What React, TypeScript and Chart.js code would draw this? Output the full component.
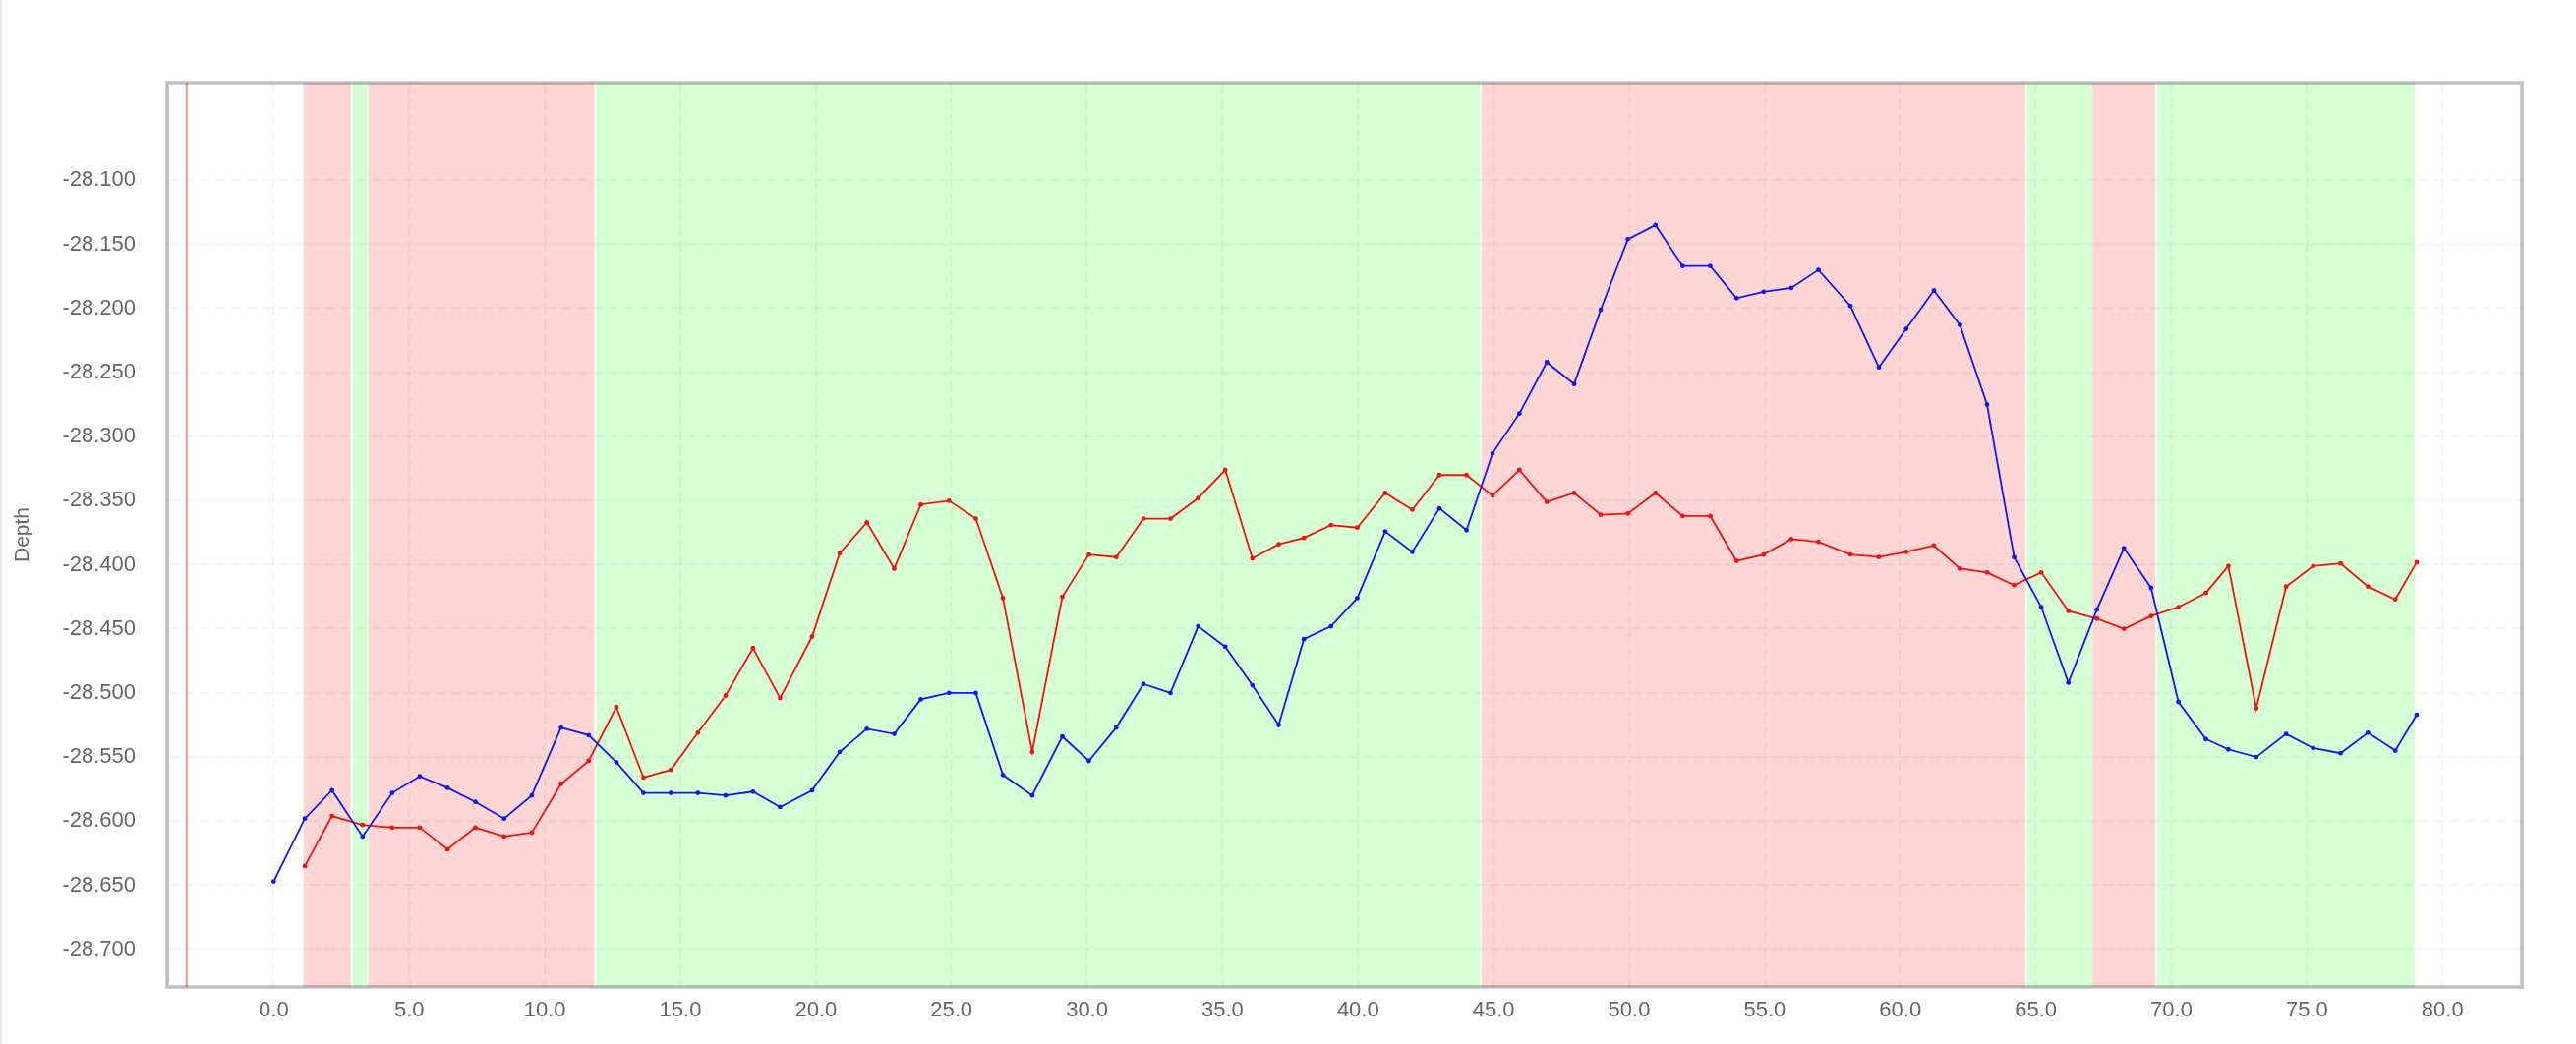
import React, { useEffect, useRef } from 'react';
import { Chart, registerables } from 'chart.js';

Chart.register(...registerables);

// Distance positions of the samples (shared by both series)
const xPositions = [
  0, 1.15, 2.15, 3.28, 4.37, 5.39, 6.41, 7.44, 8.5, 9.52,
  10.6, 11.62, 12.64, 13.64, 14.65, 15.65, 16.67, 17.68, 18.68, 19.86,
  20.88, 21.88, 22.89, 23.87, 24.91, 25.9, 26.9, 27.98, 29.09, 30.07,
  31.08, 32.08, 33.08, 34.1, 35.1, 36.1, 37.07, 38.0, 39.0, 39.97,
  41.0, 42.0, 43.0, 44.0, 44.96, 45.95, 46.96, 47.97, 48.95, 49.95,
  50.97, 51.97, 52.99, 53.96, 54.96, 55.98, 56.98, 58.16, 59.21, 60.22,
  61.24, 62.2, 63.2, 64.2, 65.2, 66.2, 67.25, 68.25, 69.25, 70.26,
  71.27, 72.1, 73.13, 74.23, 75.23, 76.24, 77.25, 78.26, 79.05,
];

// Blue series depth (starts at the first position)
const blueDepth = [
  -28.647, -28.598, -28.576, -28.612, -28.578, -28.565, -28.574, -28.585, -28.598, -28.580,
  -28.527, -28.533, -28.554, -28.578, -28.578, -28.578, -28.580, -28.577, -28.589, -28.576,
  -28.546, -28.528, -28.532, -28.505, -28.500, -28.500, -28.564, -28.580, -28.534, -28.553,
  -28.527, -28.493, -28.500, -28.448, -28.464, -28.494, -28.525, -28.458, -28.448, -28.426,
  -28.374, -28.390, -28.356, -28.373, -28.313, -28.282, -28.242, -28.259, -28.201, -28.146,
  -28.135, -28.167, -28.167, -28.192, -28.187, -28.184, -28.170, -28.198, -28.246, -28.216,
  -28.186, -28.213, -28.275, -28.394, -28.433, -28.492, -28.435, -28.387, -28.418, -28.507,
  -28.536, -28.544, -28.550, -28.532, -28.543, -28.547, -28.531, -28.545, -28.517,
];

// Red series depth (starts at the second position)
const redDepth = [
  -28.635, -28.596, -28.603, -28.605, -28.605, -28.622, -28.605, -28.612, -28.609,
  -28.571, -28.553, -28.511, -28.566, -28.560, -28.531, -28.502, -28.465, -28.504, -28.456,
  -28.391, -28.367, -28.403, -28.353, -28.350, -28.364, -28.426, -28.546, -28.425, -28.392,
  -28.394, -28.364, -28.364, -28.348, -28.326, -28.395, -28.384, -28.379, -28.369, -28.371,
  -28.344, -28.357, -28.330, -28.330, -28.346, -28.326, -28.351, -28.344, -28.361, -28.360,
  -28.344, -28.362, -28.362, -28.397, -28.392, -28.380, -28.382, -28.392, -28.394, -28.390,
  -28.385, -28.403, -28.406, -28.416, -28.406, -28.436, -28.442, -28.450, -28.440, -28.433,
  -28.422, -28.401, -28.512, -28.417, -28.401, -28.399, -28.417, -28.427, -28.398,
];

// Shaded bands (where one line is above the other)
const bandStart = [1.1, 2.9, 3.49, 11.89, 44.55, 64.68, 67.09, 69.46];
const bandEnd = [2.84, 3.49, 11.83, 44.51, 64.62, 67.09, 69.41, 78.98];
const bandKind = ['down', 'up', 'down', 'up', 'down', 'up', 'down', 'up'];

// Vertical marker line position
const markerX = [-3.21];

const xTicks = [0, 5, 10, 15, 20, 25, 30, 35, 40, 45, 50, 55, 60, 65, 70, 75, 80];
const yTicks = [-28.1, -28.15, -28.2, -28.25, -28.3, -28.35, -28.4, -28.45, -28.5, -28.55, -28.6, -28.65, -28.7];

const xMin = -3.93;
const xMax = 82.93;
const yMin = -28.7294;
const yMax = -28.0238;

const BLUE = 'rgb(16,24,240)';
const RED = 'rgb(240,20,12)';
const PINK = 'rgb(255,214,214)';
const GREEN = 'rgb(214,255,214)';
const FONT = "'Liberation Sans', Arial, Helvetica, sans-serif";

const decorPlugin = {
  id: 'decor',
  beforeDraw(chart: any) {
    const { ctx, chartArea: a, scales } = chart;
    const x = scales.x;
    ctx.save();
    for (let i = 0; i < bandStart.length; i++) {
      const x0 = x.getPixelForValue(bandStart[i]);
      const x1 = x.getPixelForValue(bandEnd[i]);
      ctx.fillStyle = bandKind[i] === 'down' ? PINK : GREEN;
      ctx.fillRect(x0, a.top, x1 - x0, a.bottom - a.top);
    }
    ctx.restore();
  },
  beforeDatasetsDraw(chart: any) {
    const { ctx, chartArea: a, scales } = chart;
    ctx.save();
    ctx.strokeStyle = 'rgba(255,120,120,0.8)';
    ctx.lineWidth = 2;
    for (const m of markerX) {
      const px = scales.x.getPixelForValue(m);
      ctx.beginPath();
      ctx.moveTo(px, a.top);
      ctx.lineTo(px, a.bottom);
      ctx.stroke();
    }
    ctx.restore();
  },
  afterDraw(chart: any) {
    const { ctx, chartArea: a } = chart;
    ctx.save();
    ctx.strokeStyle = 'rgba(0,0,0,0.25)';
    ctx.lineWidth = 3.5;
    ctx.strokeRect(a.left, a.top, a.right - a.left, a.bottom - a.top);
    ctx.restore();
  },
};

export default function App() {
  const ref = useRef<HTMLCanvasElement>(null);

  useEffect(() => {
    document.body.style.margin = '0';
    const canvas = ref.current;
    if (!canvas) return;
    const chart = new Chart(canvas, {
      type: 'line',
      data: {
        datasets: [
          {
            label: 'blue',
            data: xPositions.map((x, i) => ({ x, y: blueDepth[i] })),
            borderColor: BLUE,
            backgroundColor: BLUE,
            borderWidth: 1.8,
            pointRadius: 2.4,
            pointBorderWidth: 0,
            pointBackgroundColor: BLUE,
            tension: 0,
            fill: false,
          },
          {
            label: 'red',
            data: redDepth.map((y, i) => ({ x: xPositions[i + 1], y })),
            borderColor: RED,
            backgroundColor: RED,
            borderWidth: 1.8,
            pointRadius: 2.4,
            pointBorderWidth: 0,
            pointBackgroundColor: RED,
            tension: 0,
            fill: false,
          },
        ],
      },
      options: {
        animation: false,
        responsive: false,
        devicePixelRatio: 1,
        layout: { padding: { left: 0, top: 84, right: 55, bottom: 0 } },
        plugins: {
          legend: { display: false },
          tooltip: { enabled: false },
        },
        scales: {
          x: {
            type: 'linear',
            position: 'bottom',
            min: xMin,
            max: xMax,
            afterBuildTicks: (s: any) => {
              s.ticks = xTicks.map((v) => ({ value: v }));
            },
            afterFit: (s: any) => {
              s.height = 58;
            },
            ticks: {
              autoSkip: false,
              maxRotation: 0,
              padding: 11,
              color: '#666',
              font: { size: 22, family: FONT },
              callback: (v: any) => Number(v).toFixed(1),
            },
            grid: { color: 'rgba(0,0,0,0.032)', lineWidth: 2.5, drawTicks: false },
            border: { display: false, dash: [12, 4] },
          },
          y: {
            type: 'linear',
            min: yMin,
            max: yMax,
            afterBuildTicks: (s: any) => {
              s.ticks = yTicks.map((v) => ({ value: v }));
            },
            afterFit: (s: any) => {
              s.width = 170;
            },
            ticks: {
              padding: 32,
              color: '#666',
              font: { size: 22, family: FONT },
              callback: (v: any) => Number(v).toFixed(3),
            },
            grid: { color: 'rgba(0,0,0,0.032)', lineWidth: 2.5, drawTicks: false },
            border: { display: false, dash: [12, 4] },
            title: {
              display: true,
              text: 'Depth',
              color: '#666',
              font: { size: 21, family: FONT },
              padding: { top: 11, bottom: 0 },
            },
          },
        },
      },
      plugins: [decorPlugin],
    } as any);
    return () => chart.destroy();
  }, []);

  return (
    <div style={{ position: 'relative', width: 2620, height: 1062, background: '#fff', overflow: 'hidden' }}>
      <div style={{ position: 'absolute', left: 0, top: 0, width: 2, height: 1062, background: '#ebebeb' }} />
      <canvas ref={ref} width={2620} height={1062} style={{ display: 'block', width: 2620, height: 1062 }} />
    </div>
  );
}
